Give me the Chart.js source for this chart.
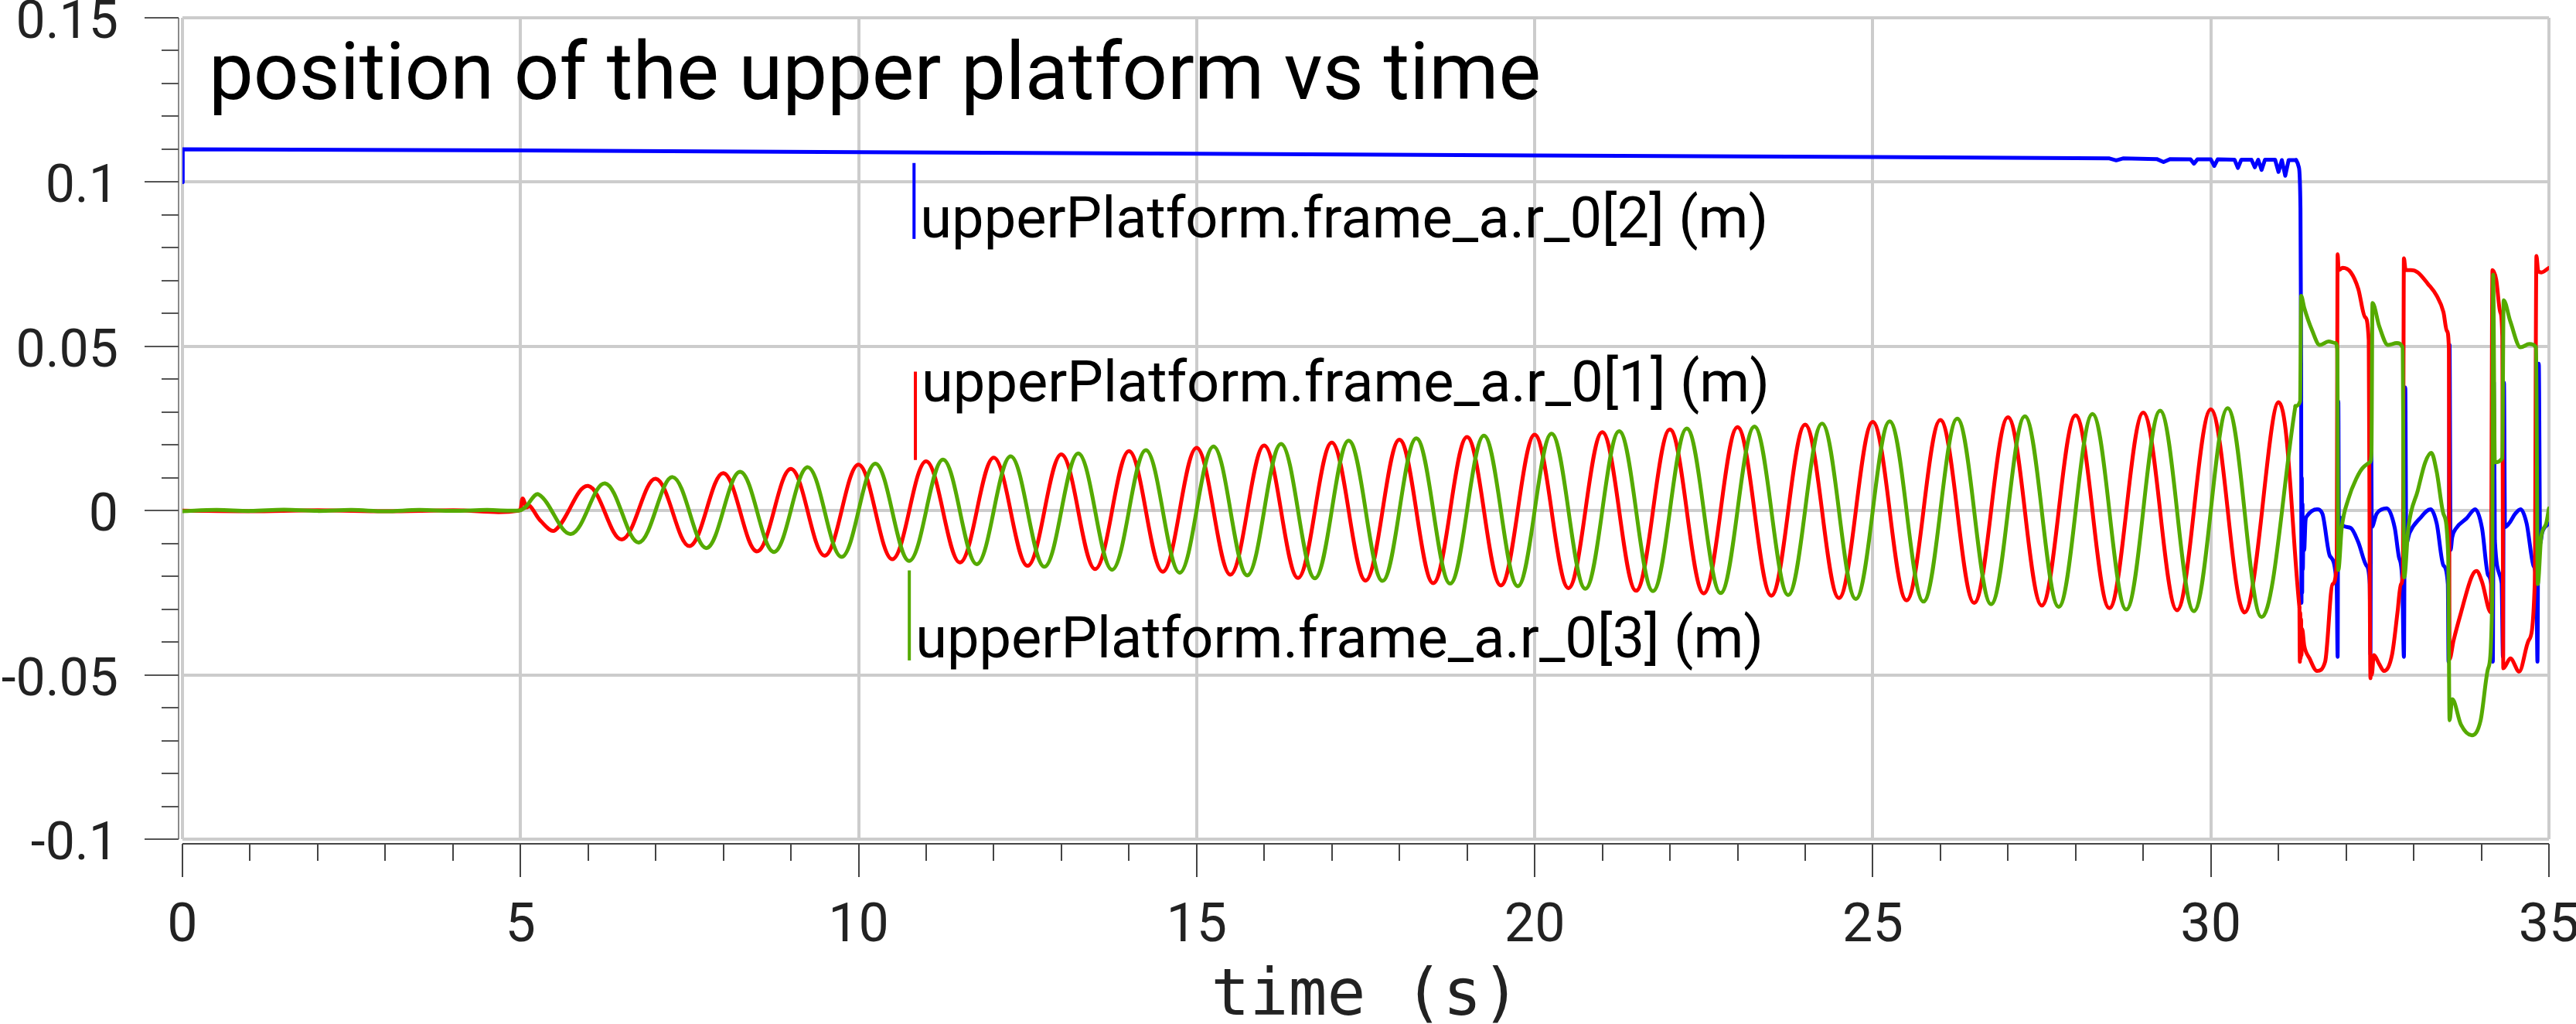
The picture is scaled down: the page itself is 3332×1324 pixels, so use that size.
<!DOCTYPE html>
<html>
<head>
<meta charset="utf-8">
<script src="https://cdn.jsdelivr.net/npm/chart.js@4.4.1/dist/chart.umd.min.js"></script>
<style>
html,body{margin:0;padding:0;background:#ffffff;}
canvas{display:block;}
</style>
</head>
<body>
<canvas id="c" width="3332" height="1324"></canvas>
<script>
// ---------------- DATA ----------------
const chartTitle = 'position of the upper platform vs time';
const xAxisTitle = 'time (s)';
const seriesNames = [
  'upperPlatform.frame_a.r_0[2] (m)',
  'upperPlatform.frame_a.r_0[1] (m)',
  'upperPlatform.frame_a.r_0[3] (m)'
];
const xTickValues = [0, 5, 10, 15, 20, 25, 30, 35];
const xTickLabels = ['0', '5', '10', '15', '20', '25', '30', '35'];
const yTickValues = [-0.1, -0.05, 0, 0.05, 0.1, 0.15];
const yTickLabels = ['-0.1', '-0.05', '0', '0.05', '0.1', '0.15'];

// r_0[2] (blue) : [time, value]
const blueMain = [
  [0,0.1000],[0.004,0.1100],[5,0.1096],[10,0.1091],[15,0.1086],[20,0.1081],[25,0.1076],
  [28.5,0.1072],[28.6,0.1066],[28.7,0.1072],[29.2,0.1070],[29.3,0.1061],[29.4,0.1070],
  [29.7,0.1069],[29.75,0.1056],[29.8,0.1069],[30.0,0.1069],[30.05,0.1049],[30.1,0.1069],
  [30.35,0.1068],[30.4,0.1043],[30.45,0.1068],[30.6,0.1068],[30.65,0.1045],[30.7,0.1068],
  [30.75,0.1037],[30.8,0.1068],[30.95,0.1068],[31.0,0.1031],[31.05,0.1067],[31.1,0.1019],
  [31.15,0.1067],[31.26,0.1067]
];
const blueEnd = [
  [31.26,0.1067],[31.30,0.1046],[31.325,0.0920],[31.335,0.0450],[31.34,-0.0281],[31.345,0.0100],
  [31.35,-0.0250],[31.355,0.0020],[31.36,-0.0180],[31.37,-0.0050],[31.38,-0.0120],[31.40,-0.0030],
  [31.42,-0.0017],[31.57,0.0004],[31.65,-0.0010],[31.76,-0.0138],[31.86,-0.0224],[31.875,-0.0445],
  [31.885,0.0333],[31.895,-0.0120],[31.905,-0.0020],[31.955,-0.0046],[32.07,-0.0053],[32.18,-0.0096],
  [32.30,-0.0167],[32.35,-0.0224],[32.36,-0.0438],[32.37,0.0275],[32.38,-0.0050],[32.45,-0.0010],
  [32.53,0.0004],[32.60,0.0007],[32.72,-0.0053],[32.78,-0.0140],[32.83,-0.0210],[32.855,-0.0445],
  [32.875,0.0375],[32.89,-0.0100],[32.94,-0.0067],[33.09,-0.0024],[33.25,0.0004],[33.34,-0.0039],
  [33.44,-0.0167],[33.505,-0.0224],[33.515,-0.0460],[33.53,0.0504],[33.545,-0.0120],[33.57,-0.0081],
  [33.63,-0.0053],[33.78,-0.0024],[33.91,0.0004],[34.01,-0.0053],[34.10,-0.0196],[34.16,-0.0253],
  [34.17,-0.0460],[34.185,0.0390],[34.20,-0.0090],[34.30,-0.0220],[34.32,-0.0445],[34.335,0.0390],
  [34.35,-0.0050],[34.41,-0.0039],[34.50,-0.0010],[34.58,0.0004],[34.67,-0.0039],[34.77,-0.0167],
  [34.815,-0.0224],[34.83,-0.0460],[34.85,0.0447],[34.87,-0.0100],[34.90,-0.0067],[35.0,-0.0039]
];

// r_0[1] (red): quiet start, then the peaks and troughs of the oscillation
const redMain = [
  [0,0],[1,-0.0002],[2,0.0001],[3,-0.0002],[4,0.0001],[4.97,0],
  [5.03,0.0037],[5.09,0.0010],[5.14,0.0014],[5.3,-0.0032],[5.51,-0.0060],
  [6,0.0075],[6.5,-0.0088],[7,0.0097],[7.5,-0.0108],[8,0.0114],[8.5,-0.0124],
  [9,0.0127],[9.5,-0.0137],[10,0.0140],[10.5,-0.0148],[11,0.0150],[11.5,-0.0158],
  [12,0.0161],[12.5,-0.0168],[13,0.0171],[13.5,-0.0178],[14,0.0181],[14.5,-0.0186],
  [15,0.0191],[15.5,-0.0195],[16,0.0198],[16.5,-0.0205],[17,0.0207],[17.5,-0.0213],
  [18,0.0216],[18.5,-0.0221],[19,0.0224],[19.5,-0.0228],[20,0.0231],[20.5,-0.0236],
  [21,0.0239],[21.5,-0.0244],[22,0.0247],[22.5,-0.0252],[23,0.0254],[23.5,-0.0259],
  [24,0.0262],[24.5,-0.0266],[25,0.0270],[25.5,-0.0273],[26,0.0276],[26.5,-0.0281],
  [27,0.0284],[27.5,-0.0289],[28,0.0290],[28.5,-0.0297],[29,0.0298],[29.5,-0.0303],
  [30,0.0308],[30.5,-0.0310],[31,0.0330],[31.31,-0.0295]
];
const redEnd = [
  [31.31,-0.0295],[31.316,-0.0460],[31.322,-0.0310],[31.328,-0.0450],[31.334,-0.0330],[31.340,-0.0440],
  [31.350,-0.0360],[31.38,-0.0410],[31.46,-0.0450],[31.57,-0.0488],[31.69,-0.0460],[31.80,-0.0224],
  [31.86,-0.0167],[31.875,0.0780],[31.89,0.0732],[31.95,0.0739],[32.07,0.0725],[32.18,0.0675],
  [32.28,0.0589],[32.335,0.0518],[32.35,-0.0238],[32.36,-0.0510],[32.37,-0.0450],[32.38,-0.0500],
  [32.41,-0.0440],[32.49,-0.0467],[32.56,-0.0488],[32.68,-0.0438],[32.76,-0.0310],[32.81,-0.0224],
  [32.84,-0.0188],[32.855,0.0768],[32.88,0.0732],[32.96,0.0732],[33.06,0.0725],[33.21,0.0690],
  [33.34,0.0654],[33.44,0.0604],[33.49,0.0547],[33.52,0.0497],[33.53,-0.0452],[33.59,-0.0395],
  [33.70,-0.0310],[33.86,-0.0200],[33.93,-0.0184],[34.01,-0.0217],[34.14,-0.0310],[34.165,0.0732],
  [34.22,0.0703],[34.28,0.0604],[34.31,0.0532],[34.325,-0.0480],[34.43,-0.0450],[34.56,-0.0490],
  [34.70,-0.0395],[34.79,-0.0224],[34.815,0.0775],[34.84,0.0730],[34.89,0.0725],[35.0,0.0739]
];

// r_0[3] (green): quiet start, then the peaks and troughs of the oscillation
const greenMain = [
  [0,-0.0002],[0.5,0.0002],[1,-0.0001],[1.5,0.0003],[2,-0.0001],[2.5,0.0002],[3,-0.0002],
  [3.5,0.0002],[4,-0.0001],[4.5,0.0002],[4.97,0],
  [5.06,0.0008],[5.27,0.0049],[5.75,-0.0071],[6.25,0.0083],[6.75,-0.0097],
  [7.25,0.0102],[7.75,-0.0114],[8.25,0.0118],[8.75,-0.0126],[9.25,0.0132],[9.75,-0.0141],
  [10.25,0.0143],[10.75,-0.0153],[11.25,0.0155],[11.75,-0.0163],[12.25,0.0165],[12.75,-0.0171],
  [13.25,0.0174],[13.75,-0.0180],[14.25,0.0184],[14.75,-0.0189],[15.25,0.0195],[15.75,-0.0197],
  [16.25,0.0203],[16.75,-0.0206],[17.25,0.0213],[17.75,-0.0214],[18.25,0.0220],[18.75,-0.0222],
  [19.25,0.0228],[19.75,-0.0230],[20.25,0.0234],[20.75,-0.0238],[21.25,0.0242],[21.75,-0.0245],
  [22.25,0.0250],[22.75,-0.0251],[23.25,0.0256],[23.75,-0.0257],[24.25,0.0265],[24.75,-0.0269],
  [25.25,0.0272],[25.75,-0.0277],[26.25,0.0280],[26.75,-0.0285],[27.25,0.0287],[27.75,-0.0293],
  [28.25,0.0294],[28.75,-0.0301],[29.25,0.0304],[29.75,-0.0306],[30.25,0.0312],[30.75,-0.0324],
  [31.25,0.0318]
];
const greenEnd = [
  [31.25,0.0318],[31.32,0.0333],[31.335,0.0654],[31.38,0.0618],[31.50,0.0547],[31.61,0.0504],[31.74,0.0515],
  [31.84,0.0510],[31.87,0.0490],[31.885,-0.0181],[31.935,-0.0053],[32.03,0.0033],[32.15,0.0097],
  [32.26,0.0133],[32.35,0.0147],[32.375,0.0175],[32.39,0.0632],[32.49,0.0561],[32.62,0.0504],
  [32.75,0.0510],[32.835,0.0497],[32.86,-0.0203],[32.92,-0.0053],[33.06,0.0061],[33.17,0.0147],
  [33.26,0.0176],[33.34,0.0118],[33.44,-0.0010],[33.51,-0.0138],[33.53,-0.0638],[33.57,-0.0574],
  [33.70,-0.0652],[33.86,-0.0684],[33.99,-0.0638],[34.10,-0.0481],[34.16,-0.0281],[34.175,0.0718],
  [34.20,0.0147],[34.31,0.0160],[34.33,0.0640],[34.43,0.0575],[34.58,0.0497],[34.71,0.0507],
  [34.81,0.0497],[34.835,-0.0224],[34.885,-0.0081],[34.96,-0.0039],[35.0,0.0007]
];

// label markers (data coordinates: time of the bar, bar top/bottom value, text baseline value)
const labelT      = [10.82, 10.84, 10.75];
const labelTop    = [0.1058, 0.0423, -0.0182];
const labelBottom = [0.0827, 0.0154, -0.0456];
const labelText   = [0.0832, 0.0333, -0.0446];

// ---------------- STYLE ----------------
const COLORS = ['#0000ff', '#ff0000', '#55aa00'];
const GRID = '#cccccc';
const FONT = 'Roboto';
const WAVE_TENSION = 0.363;

function pts(a) { return a.map(p => ({ x: p[0], y: p[1] })); }
function lbl(values, labels, v) {
  const i = values.findIndex(t => Math.abs(t - v) < 1e-9);
  return i >= 0 ? labels[i] : '';
}
function fixBox(s, w, h) {
  if (w !== null) s.width = w;
  if (h !== null) s.height = h;
  s.paddingTop = 0; s.paddingBottom = 0; s.paddingLeft = 0; s.paddingRight = 0;
}

const decor = {
  id: 'decor',
  beforeDatasetsDraw(chart) {
    const { ctx, chartArea: a, scales: { x, y } } = chart;
    ctx.save();
    ctx.lineWidth = 2;
    // left axis line + ticks
    const ax = a.left - 5;
    ctx.strokeStyle = '#8a8a8a';
    ctx.beginPath(); ctx.moveTo(ax, a.top); ctx.lineTo(ax, a.bottom); ctx.stroke();
    ctx.strokeStyle = '#555555';
    for (let k = -10; k <= 15; k++) {
      const py = Math.round(y.getPixelForValue(k / 100));
      const len = (k % 5 === 0) ? 44 : 22;
      ctx.beginPath(); ctx.moveTo(ax, py); ctx.lineTo(ax - len, py); ctx.stroke();
    }
    // bottom axis line + ticks
    const ay = a.bottom + 6;
    ctx.strokeStyle = '#444444';
    ctx.beginPath(); ctx.moveTo(a.left, ay); ctx.lineTo(a.right, ay); ctx.stroke();
    for (let t = 0; t <= 35; t++) {
      const px = Math.round(x.getPixelForValue(t));
      const len = (t % 5 === 0) ? 43 : 22;
      ctx.beginPath(); ctx.moveTo(px, ay); ctx.lineTo(px, ay + len); ctx.stroke();
    }
    ctx.restore();
  },
  afterDatasetsDraw(chart) {
    const { ctx, chartArea: a, scales: { x, y } } = chart;
    ctx.save();
    // title inside the plot
    ctx.fillStyle = '#000000';
    ctx.font = '103px ' + FONT;
    ctx.textAlign = 'left';
    ctx.textBaseline = 'alphabetic';
    ctx.fillText(chartTitle, a.left + 34, a.top + 105);
    // series labels with coloured bars
    ctx.font = '74px ' + FONT;
    for (let i = 0; i < 3; i++) {
      const bx = x.getPixelForValue(labelT[i]);
      ctx.strokeStyle = COLORS[i];
      ctx.lineWidth = 4;
      ctx.beginPath();
      ctx.moveTo(bx, y.getPixelForValue(labelTop[i]));
      ctx.lineTo(bx, y.getPixelForValue(labelBottom[i]));
      ctx.stroke();
      ctx.fillStyle = '#000000';
      ctx.fillText(seriesNames[i], bx + 8, y.getPixelForValue(labelText[i]));
    }
    ctx.restore();
  }
};

const common = { pointRadius: 0, borderWidth: 5, fill: false, borderJoinStyle: 'round', borderCapStyle: 'round' };

new Chart(document.getElementById('c'), {
  type: 'line',
  data: {
    datasets: [
      { ...common, label: seriesNames[2], data: pts(greenMain), borderColor: COLORS[2], tension: WAVE_TENSION, order: 0 },
      { ...common, label: seriesNames[2], data: pts(greenEnd), borderColor: COLORS[2], cubicInterpolationMode: 'monotone', order: 0 },
      { ...common, label: seriesNames[1], data: pts(redMain), borderColor: COLORS[1], tension: WAVE_TENSION, order: 1 },
      { ...common, label: seriesNames[1], data: pts(redEnd), borderColor: COLORS[1], cubicInterpolationMode: 'monotone', order: 1 },
      { ...common, label: seriesNames[0], data: pts(blueMain), borderColor: COLORS[0], tension: 0, order: 2 },
      { ...common, label: seriesNames[0], data: pts(blueEnd), borderColor: COLORS[0], cubicInterpolationMode: 'monotone', order: 2 }
    ]
  },
  options: {
    responsive: false,
    animation: false,
    devicePixelRatio: 1,
    events: [],
    layout: { padding: { top: 23, right: 35, left: 0, bottom: 0 } },
    plugins: { legend: { display: false }, tooltip: { enabled: false }, title: { display: false } },
    scales: {
      x: {
        type: 'linear', min: 0, max: 35,
        grid: { color: GRID, lineWidth: 4, drawTicks: false },
        border: { display: false },
        ticks: {
          stepSize: 5, autoSkip: false, maxRotation: 0, padding: 72,
          color: '#222222', font: { family: FONT, size: 70 },
          callback: (v) => lbl(xTickValues, xTickLabels, v)
        },
        title: {
          display: true, text: xAxisTitle, color: '#222222',
          font: { family: 'DejaVu Sans Mono', size: 83, lineHeight: 0.8 },
          padding: { top: 0, bottom: 0 }
        },
        afterFit: (s) => fixBox(s, null, 239)
      },
      y: {
        type: 'linear', min: -0.1, max: 0.15,
        grid: { color: GRID, lineWidth: 4, drawTicks: false },
        border: { display: false },
        ticks: {
          stepSize: 0.05, autoSkip: false, padding: 83, labelOffset: 9,
          color: '#222222', font: { family: FONT, size: 68 },
          callback: (v) => lbl(yTickValues, yTickLabels, v)
        },
        afterFit: (s) => fixBox(s, 236, null)
      }
    }
  },
  plugins: [decor]
});
</script>
</body>
</html>
